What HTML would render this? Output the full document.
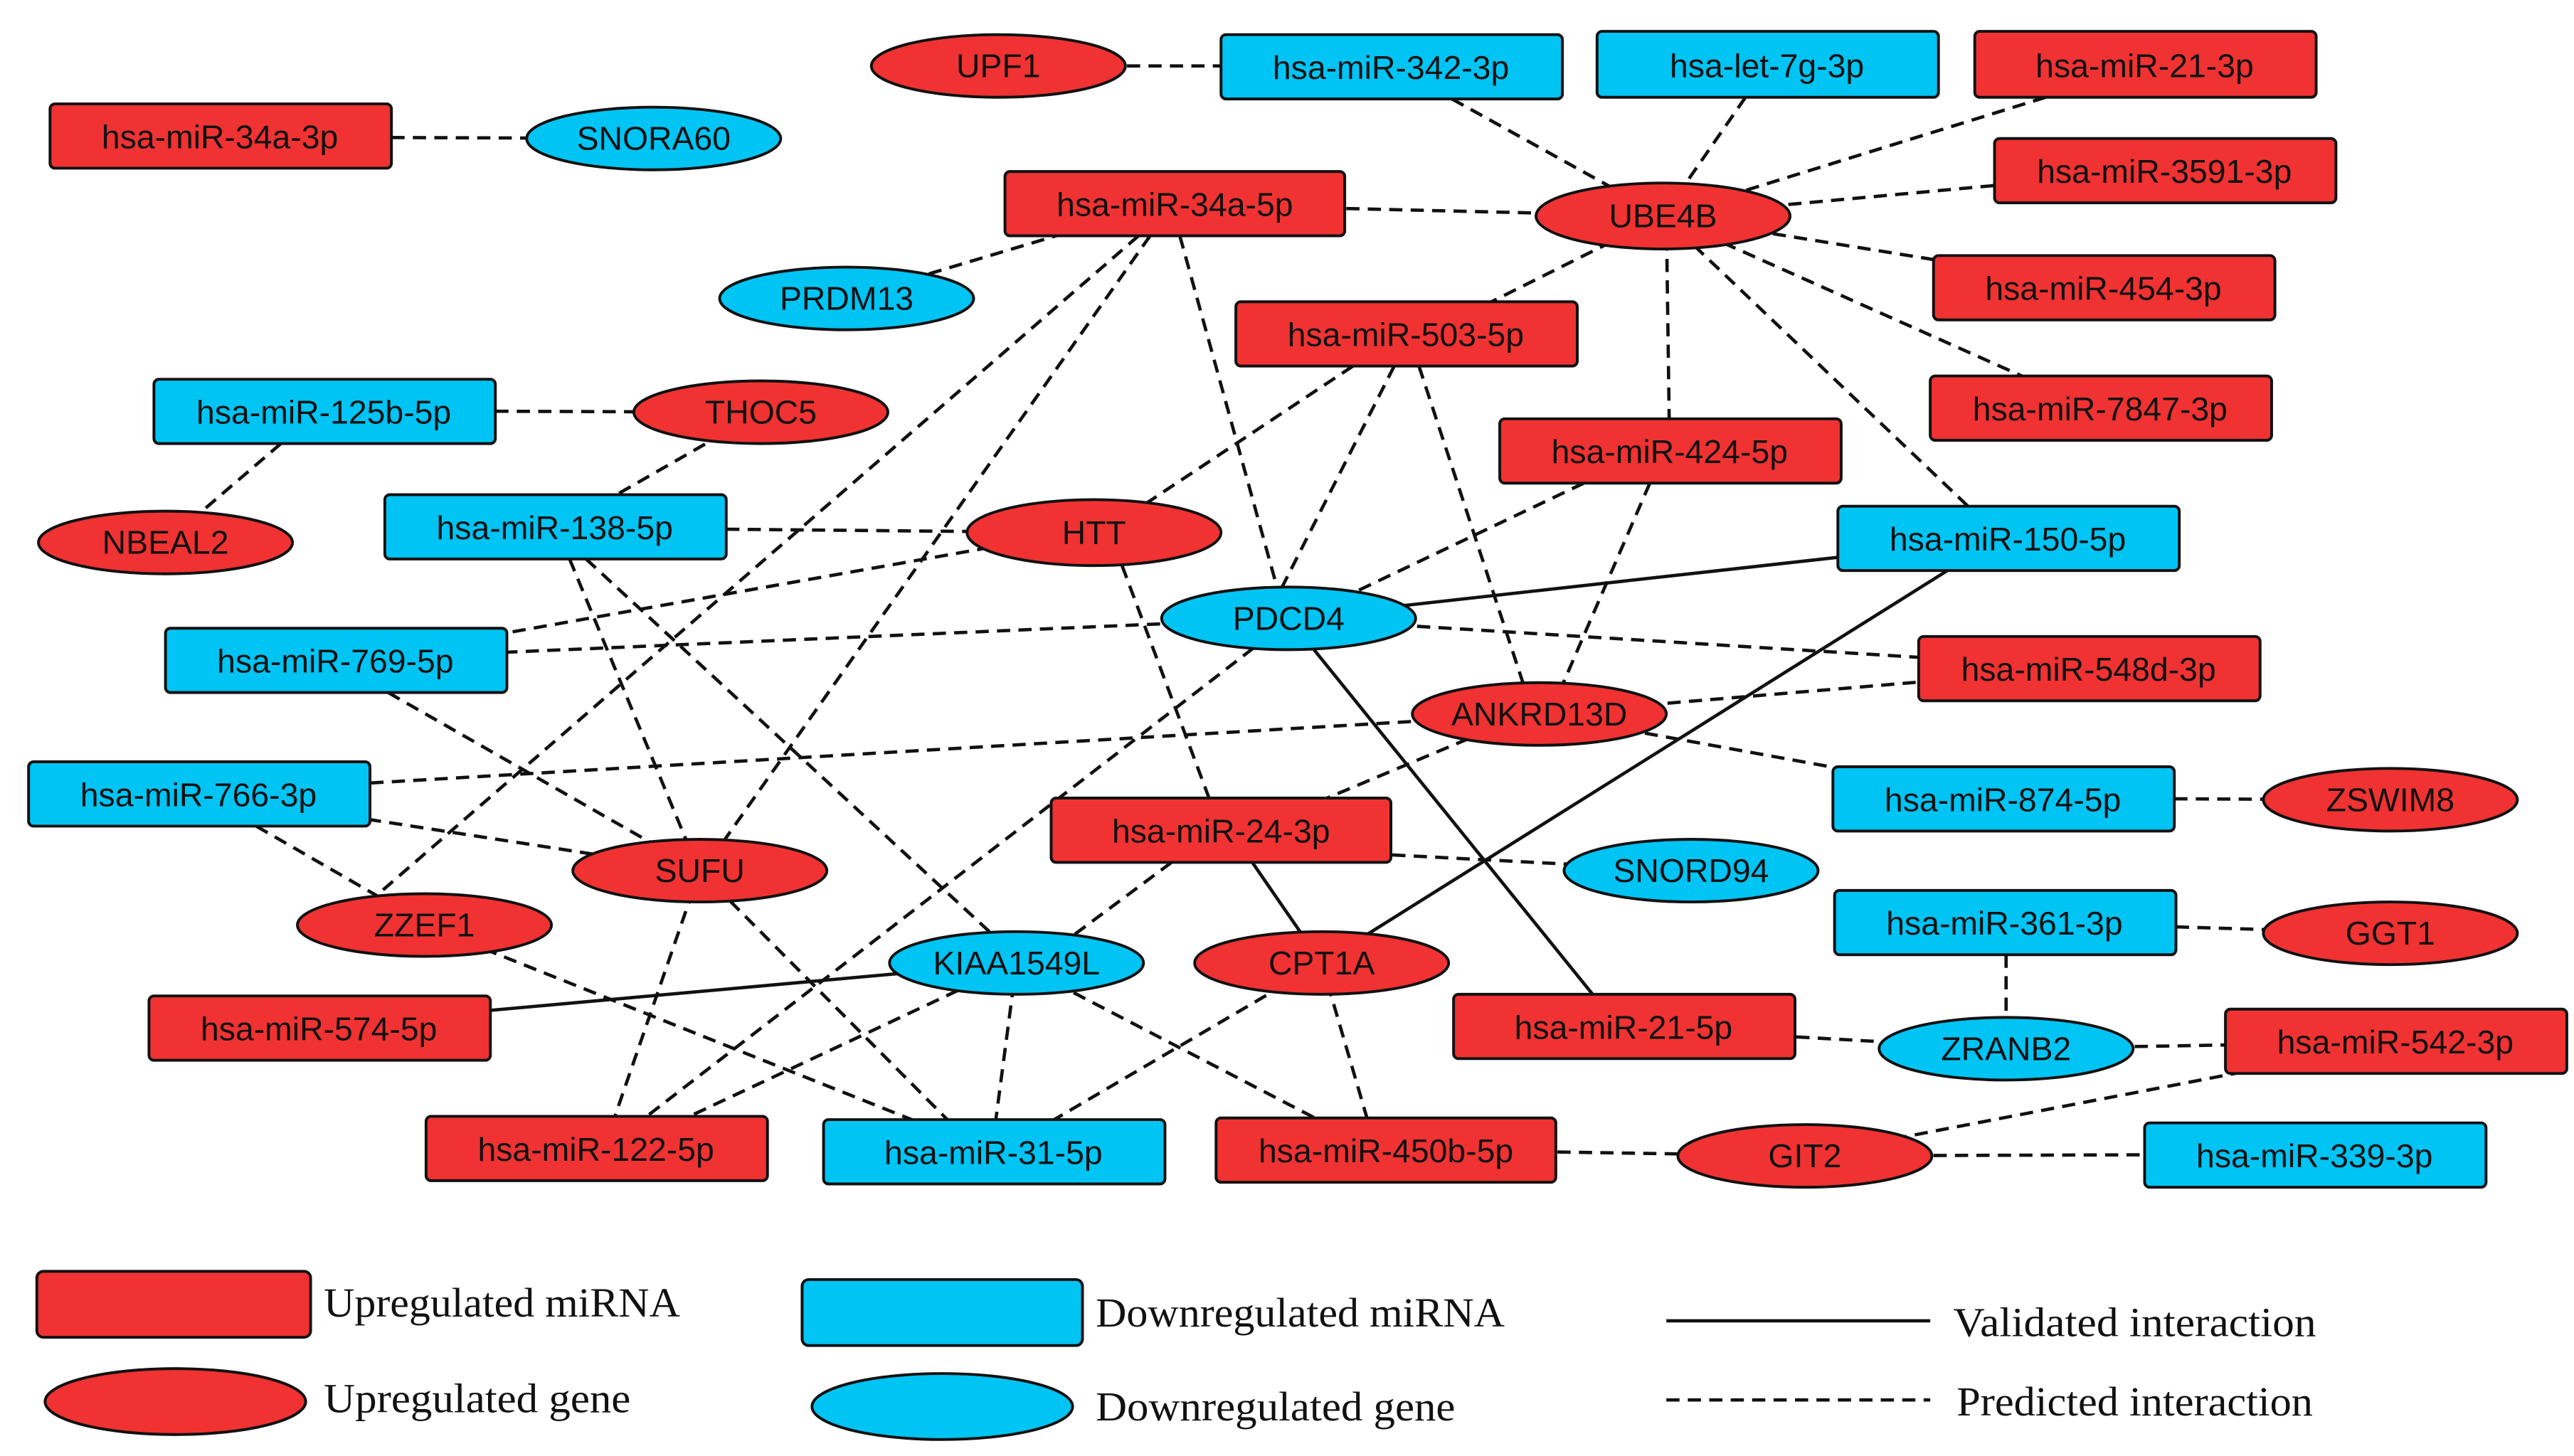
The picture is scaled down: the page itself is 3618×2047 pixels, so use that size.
<!DOCTYPE html>
<html><head><meta charset="utf-8"><style>
html,body{margin:0;padding:0;background:#fff}
svg{display:block}
.r{fill:#f03232;stroke:#111;stroke-width:1.7}
.b{fill:#00c4f4;stroke:#111;stroke-width:1.7}
.d{stroke:#111;stroke-width:2;stroke-dasharray:8 5;fill:none}
.s{stroke:#111;stroke-width:2;fill:none}
text{font-family:"Liberation Sans",sans-serif;font-size:20px;fill:#111;text-anchor:middle;dominant-baseline:central}
.lg{font-family:"Liberation Serif",serif;font-size:25px;text-anchor:start;fill:#111}
</style></head><body>
<svg width="3618" height="2047" viewBox="0 0 1560 883" xmlns="http://www.w3.org/2000/svg">
<g class="d">
<line x1="605" y1="40" x2="843" y2="40"/>
<line x1="133" y1="83" x2="396" y2="84"/>
<line x1="880" y1="60" x2="1008" y2="131"/>
<line x1="1058" y1="59" x2="1008" y2="131"/>
<line x1="1240" y1="59" x2="1008" y2="131"/>
<line x1="1312" y1="103" x2="1008" y2="131"/>
<line x1="1275" y1="174" x2="1008" y2="131"/>
<line x1="1230" y1="230" x2="1008" y2="131"/>
<line x1="712" y1="124" x2="1008" y2="131"/>
<line x1="900" y1="185" x2="1008" y2="131"/>
<line x1="1010" y1="131" x2="1012" y2="273"/>
<line x1="1008" y1="131" x2="1195" y2="309"/>
<line x1="513" y1="181" x2="640" y2="143"/>
<line x1="715" y1="143" x2="775" y2="360"/>
<line x1="697" y1="143" x2="435" y2="515"/>
<line x1="690" y1="143" x2="220" y2="550"/>
<line x1="196" y1="249" x2="461" y2="250"/>
<line x1="170" y1="269" x2="100" y2="329"/>
<line x1="461" y1="250" x2="370" y2="302"/>
<line x1="336" y1="320" x2="663" y2="323"/>
<line x1="345" y1="339" x2="418" y2="515"/>
<line x1="355" y1="339" x2="605" y2="570"/>
<line x1="820" y1="222" x2="695" y2="305"/>
<line x1="845" y1="222" x2="775" y2="360"/>
<line x1="860" y1="222" x2="925" y2="420"/>
<line x1="960" y1="293" x2="815" y2="362"/>
<line x1="1000" y1="293" x2="945" y2="420"/>
<line x1="600" y1="332" x2="300" y2="385"/>
<line x1="680" y1="343" x2="735" y2="490"/>
<line x1="781" y1="375" x2="204" y2="400"/>
<line x1="781" y1="375" x2="1266" y2="405"/>
<line x1="933" y1="433" x2="1266" y2="405"/>
<line x1="933" y1="433" x2="120" y2="481"/>
<line x1="933" y1="433" x2="1214" y2="484"/>
<line x1="890" y1="448" x2="790" y2="490"/>
<line x1="235" y1="420" x2="410" y2="520"/>
<line x1="120" y1="481" x2="424" y2="528"/>
<line x1="155" y1="501" x2="240" y2="550"/>
<line x1="1214" y1="484" x2="1449" y2="485"/>
<line x1="740" y1="513" x2="1025" y2="528"/>
<line x1="710" y1="523" x2="640" y2="575"/>
<line x1="424" y1="528" x2="368" y2="690"/>
<line x1="424" y1="528" x2="585" y2="690"/>
<line x1="257" y1="561" x2="580" y2="690"/>
<line x1="616" y1="584" x2="390" y2="690"/>
<line x1="616" y1="584" x2="602" y2="690"/>
<line x1="616" y1="584" x2="820" y2="690"/>
<line x1="770" y1="385" x2="375" y2="690"/>
<line x1="801" y1="584" x2="620" y2="690"/>
<line x1="801" y1="584" x2="832" y2="690"/>
<line x1="1215" y1="559" x2="1449" y2="566"/>
<line x1="1216" y1="579" x2="1216" y2="620"/>
<line x1="985" y1="623" x2="1216" y2="636"/>
<line x1="1216" y1="636" x2="1452" y2="632"/>
<line x1="1360" y1="650" x2="1094" y2="701"/>
<line x1="840" y1="697" x2="1094" y2="701"/>
<line x1="1094" y1="701" x2="1403" y2="700"/>
</g>
<g class="s">
<line x1="1150" y1="334" x2="781" y2="375"/>
<line x1="1190" y1="340" x2="801" y2="584"/>
<line x1="781" y1="375" x2="975" y2="615"/>
<line x1="750" y1="510" x2="801" y2="584"/>
<line x1="616" y1="584" x2="194" y2="622"/>
</g>
<ellipse class="r" cx="605" cy="40" rx="77" ry="19"/><text x="605" y="40">UPF1</text>
<rect class="b" x="740" y="21" width="207" height="39" rx="3"/><text x="843" y="41">hsa-miR-342-3p</text>
<rect class="b" x="968" y="19" width="207" height="40" rx="3"/><text x="1071" y="40">hsa-let-7g-3p</text>
<rect class="r" x="1197" y="19" width="207" height="40" rx="3"/><text x="1300" y="40">hsa-miR-21-3p</text>
<rect class="r" x="30" y="63" width="207" height="39" rx="3"/><text x="133" y="83">hsa-miR-34a-3p</text>
<ellipse class="b" cx="396" cy="84" rx="77" ry="19"/><text x="396" y="84">SNORA60</text>
<rect class="r" x="1209" y="84" width="207" height="39" rx="3"/><text x="1312" y="104">hsa-miR-3591-3p</text>
<rect class="r" x="609" y="104" width="206" height="39" rx="3"/><text x="712" y="124">hsa-miR-34a-5p</text>
<ellipse class="r" cx="1008" cy="131" rx="77" ry="20"/><text x="1008" y="131">UBE4B</text>
<ellipse class="b" cx="513" cy="181" rx="77" ry="19"/><text x="513" y="181">PRDM13</text>
<rect class="r" x="1172" y="155" width="207" height="39" rx="3"/><text x="1275" y="175">hsa-miR-454-3p</text>
<rect class="r" x="749" y="183" width="207" height="39" rx="3"/><text x="852" y="203">hsa-miR-503-5p</text>
<rect class="r" x="1170" y="228" width="207" height="39" rx="3"/><text x="1273" y="248">hsa-miR-7847-3p</text>
<rect class="b" x="93" y="230" width="207" height="39" rx="3"/><text x="196" y="250">hsa-miR-125b-5p</text>
<ellipse class="r" cx="461" cy="250" rx="77" ry="19"/><text x="461" y="250">THOC5</text>
<rect class="r" x="909" y="254" width="207" height="39" rx="3"/><text x="1012" y="274">hsa-miR-424-5p</text>
<ellipse class="r" cx="100" cy="329" rx="77" ry="19"/><text x="100" y="329">NBEAL2</text>
<rect class="b" x="233" y="300" width="207" height="39" rx="3"/><text x="336" y="320">hsa-miR-138-5p</text>
<ellipse class="r" cx="663" cy="323" rx="77" ry="20"/><text x="663" y="323">HTT</text>
<rect class="b" x="1114" y="307" width="207" height="39" rx="3"/><text x="1217" y="327">hsa-miR-150-5p</text>
<ellipse class="b" cx="781" cy="375" rx="77" ry="19"/><text x="781" y="375">PDCD4</text>
<rect class="b" x="100" y="381" width="207" height="39" rx="3"/><text x="203" y="401">hsa-miR-769-5p</text>
<rect class="r" x="1163" y="386" width="207" height="39" rx="3"/><text x="1266" y="406">hsa-miR-548d-3p</text>
<ellipse class="r" cx="933" cy="433" rx="77" ry="19"/><text x="933" y="433">ANKRD13D</text>
<rect class="b" x="17" y="462" width="207" height="39" rx="3"/><text x="120" y="482">hsa-miR-766-3p</text>
<rect class="b" x="1111" y="465" width="207" height="39" rx="3"/><text x="1214" y="485">hsa-miR-874-5p</text>
<ellipse class="r" cx="1449" cy="485" rx="77" ry="19"/><text x="1449" y="485">ZSWIM8</text>
<rect class="r" x="637" y="484" width="206" height="39" rx="3"/><text x="740" y="504">hsa-miR-24-3p</text>
<ellipse class="r" cx="424" cy="528" rx="77" ry="19"/><text x="424" y="528">SUFU</text>
<ellipse class="b" cx="1025" cy="528" rx="77" ry="19"/><text x="1025" y="528">SNORD94</text>
<ellipse class="r" cx="257" cy="561" rx="77" ry="19"/><text x="257" y="561">ZZEF1</text>
<rect class="b" x="1112" y="540" width="207" height="39" rx="3"/><text x="1215" y="560">hsa-miR-361-3p</text>
<ellipse class="r" cx="1449" cy="566" rx="77" ry="19"/><text x="1449" y="566">GGT1</text>
<ellipse class="b" cx="616" cy="584" rx="77" ry="19"/><text x="616" y="584">KIAA1549L</text>
<ellipse class="r" cx="801" cy="584" rx="77" ry="19"/><text x="801" y="584">CPT1A</text>
<rect class="r" x="90" y="604" width="207" height="39" rx="3"/><text x="193" y="624">hsa-miR-574-5p</text>
<rect class="r" x="881" y="603" width="207" height="39" rx="3"/><text x="984" y="623">hsa-miR-21-5p</text>
<ellipse class="b" cx="1216" cy="636" rx="77" ry="19"/><text x="1216" y="636">ZRANB2</text>
<rect class="r" x="1349" y="612" width="207" height="39" rx="3"/><text x="1452" y="632">hsa-miR-542-3p</text>
<rect class="r" x="258" y="677" width="207" height="39" rx="3"/><text x="361" y="697">hsa-miR-122-5p</text>
<rect class="b" x="499" y="679" width="207" height="39" rx="3"/><text x="602" y="699">hsa-miR-31-5p</text>
<rect class="r" x="737" y="678" width="206" height="39" rx="3"/><text x="840" y="698">hsa-miR-450b-5p</text>
<ellipse class="r" cx="1094" cy="701" rx="77" ry="19"/><text x="1094" y="701">GIT2</text>
<rect class="b" x="1300" y="681" width="207" height="39" rx="3"/><text x="1403" y="701">hsa-miR-339-3p</text>
<rect class="r" x="22" y="771" width="166" height="40" rx="4"/><text class="lg" x="196" y="790" textLength="216" lengthAdjust="spacingAndGlyphs">Upregulated miRNA</text>
<ellipse class="r" cx="106" cy="850" rx="79" ry="20"/><text class="lg" x="196" y="848" textLength="186" lengthAdjust="spacingAndGlyphs">Upregulated gene</text>
<rect class="b" x="486" y="776" width="170" height="40" rx="4"/><text class="lg" x="664" y="796" textLength="248" lengthAdjust="spacingAndGlyphs">Downregulated miRNA</text>
<ellipse class="b" cx="571" cy="853" rx="79" ry="20"/><text class="lg" x="664" y="853" textLength="218" lengthAdjust="spacingAndGlyphs">Downregulated gene</text>
<line class="s" x1="1010" y1="801" x2="1170" y2="801"/><text class="lg" x="1184" y="802" textLength="220" lengthAdjust="spacingAndGlyphs">Validated interaction</text>
<line class="d" x1="1010" y1="849" x2="1170" y2="849"/><text class="lg" x="1186" y="850" textLength="216" lengthAdjust="spacingAndGlyphs">Predicted interaction</text>
</svg>
</body></html>
